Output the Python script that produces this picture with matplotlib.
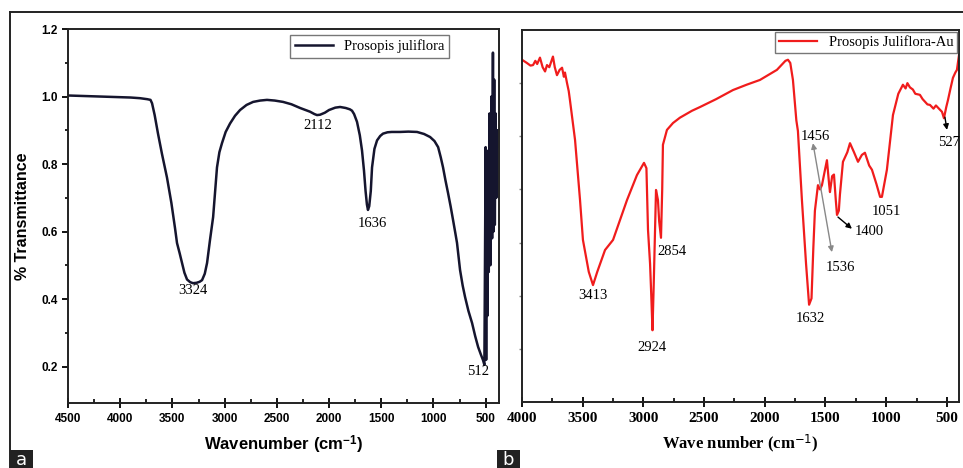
import matplotlib
matplotlib.use('Agg')
import matplotlib.pyplot as plt
from matplotlib.lines import Line2D
from matplotlib.patches import Rectangle

plt.rcParams['mathtext.fontset'] = 'custom'
plt.rcParams['mathtext.bf'] = 'Liberation Sans:bold'
plt.rcParams['mathtext.it'] = 'Liberation Serif:bold'

# panel a : Prosopis juliflora
wn_a = [4500, 4200, 3900, 3810, 3740, 3710, 3695, 3670, 3638, 3600, 3552, 3510, 3475, 3456,
        3430, 3408, 3385, 3360, 3330, 3303, 3270, 3240, 3216, 3190, 3168, 3140, 3110, 3073,
        3050, 3025, 2990, 2948, 2900, 2852, 2790, 2727, 2660, 2594, 2520, 2440, 2360, 2277,
        2182, 2140, 2115, 2086, 2040, 2000, 1940, 1894, 1840, 1800, 1780, 1760, 1732, 1705,
        1684, 1665, 1650, 1637, 1627, 1615, 1600, 1588, 1565, 1540, 1510, 1483, 1440,
        1400, 1320, 1240, 1157, 1090, 1032, 990, 955, 930, 908, 885, 860, 835, 812, 790, 774,
        745, 720, 697, 665, 630, 600, 572, 545, 525, 512,
        500, 495, 490, 484, 478, 470, 462, 455, 445, 438, 430, 425, 418, 412, 405, 398, 392]
tr_a = [1.003, 1.0, 0.997, 0.995, 0.992, 0.99, 0.98, 0.945, 0.89, 0.83, 0.76, 0.685, 0.61, 0.566,
        0.535, 0.507, 0.478, 0.458, 0.45, 0.447, 0.448, 0.451, 0.456, 0.475, 0.507, 0.575, 0.643, 0.79,
        0.835, 0.862, 0.895, 0.92, 0.943, 0.96, 0.975, 0.984, 0.988, 0.99, 0.988, 0.984, 0.977, 0.966,
        0.955, 0.948, 0.945, 0.946, 0.952, 0.96, 0.967, 0.969, 0.966, 0.962, 0.958, 0.948, 0.925, 0.885,
        0.84, 0.78, 0.72, 0.68, 0.664, 0.675, 0.72, 0.79, 0.845, 0.87, 0.883, 0.89, 0.894,
        0.895, 0.895, 0.896, 0.895, 0.889, 0.88, 0.868, 0.85, 0.82, 0.79, 0.752, 0.714, 0.674, 0.634, 0.595, 0.566,
        0.486, 0.44, 0.406, 0.365, 0.329, 0.29, 0.258, 0.235, 0.219, 0.205,
        0.85, 0.22, 0.84, 0.35, 0.82, 0.48, 0.95, 0.5, 1.0, 0.58, 1.13, 0.6, 1.05, 0.62, 0.95, 0.7, 0.9]
peaks_a = [(3300, 0.425, '3324'), (2105, 0.913, '2112'), (1588, 0.625, '1636'), (572, 0.184, '512')]

# panel b : Prosopis Juliflora-Au (arbitrary units)
wn_b = [4000, 3960, 3930, 3909, 3890, 3875, 3852, 3830, 3810, 3794, 3775, 3760, 3745, 3730,
        3712, 3690, 3670, 3655, 3646, 3629, 3615, 3605, 3563, 3522, 3498, 3450, 3415, 3380,
        3316, 3250, 3135, 3053, 2995, 2975, 2962, 2945, 2935, 2925, 2915, 2896, 2880, 2870,
        2855, 2845, 2839, 2806, 2756, 2699, 2600, 2534, 2400, 2262, 2150, 2040, 1900, 1830,
        1809, 1790, 1768, 1740, 1727, 1694, 1660, 1635, 1615, 1600, 1587, 1562, 1545, 1529,
        1510, 1488, 1470, 1463, 1445, 1430, 1415, 1405, 1390, 1381, 1356, 1320, 1298, 1265,
        1232, 1200, 1175, 1140, 1117, 1080, 1050, 1035, 994, 944, 900, 862, 840, 825, 804,
        780, 760, 722, 700, 680, 660, 639, 610, 590, 557, 540, 524, 505, 491, 470, 450, 430,
        417, 400]
tr_b = [6.44, 6.38, 6.33, 6.34, 6.42, 6.36, 6.48, 6.30, 6.22, 6.34, 6.30, 6.40, 6.50, 6.30,
        6.15, 6.25, 6.29, 6.12, 6.20, 6.00, 5.85, 5.68, 4.93, 3.80, 3.05, 2.45, 2.20, 2.45,
        2.86, 3.05, 3.80, 4.27, 4.50, 4.40, 3.24, 2.60, 2.00, 1.35, 2.20, 3.99, 3.80, 3.40,
        3.09, 4.00, 4.84, 5.12, 5.25, 5.35, 5.48, 5.55, 5.70, 5.87, 5.97, 6.06, 6.25, 6.42,
        6.44, 6.38, 6.06, 5.30, 5.10, 3.80, 2.60, 1.83, 1.95, 2.90, 3.60, 4.08, 4.00, 4.08,
        4.30, 4.55, 4.10, 3.95, 4.25, 4.28, 3.80, 3.52, 3.60, 3.90, 4.52, 4.70, 4.87, 4.70,
        4.52, 4.65, 4.69, 4.45, 4.37, 4.10, 3.86, 3.86, 4.37, 5.40, 5.80, 5.97, 5.90, 6.00, 5.92,
        5.88, 5.80, 5.78, 5.70, 5.65, 5.60, 5.59, 5.52, 5.58, 5.50, 5.46, 5.34, 5.55, 5.68, 5.90,
        6.10, 6.20, 6.25, 6.53]
peaks_b = [(3415, 2.01, '3413'), (2929, 1.03, '2924'), (2764, 2.84, '2854'), (1628, 1.58, '1632'),
           (1585, 5.0, '1456'), (1381, 2.54, '1536'), (1142, 3.2, '1400'), (1002, 3.58, '1051'),
           (483, 4.89, '527')]

W, H = 963, 468
fig = plt.figure(figsize=(W / 100, H / 100), dpi=100)

ax1 = fig.add_axes([68 / W, 1 - 403 / H, 431 / W, 374 / H])
ax2 = fig.add_axes([522 / W, 1 - 402 / H, 437 / W, 372 / H])

# ---- panel a
ax1.plot(wn_a, tr_a, color='#15152e', lw=1.8, label='Prosopis juliflora',
         solid_joinstyle='round')
ax1.set_xlim(4500, 372)
ax1.set_ylim(0.092, 1.2)
ax1.set_xticks([4500, 4000, 3500, 3000, 2500, 2000, 1500, 1000, 500])
ax1.set_xticks([4250, 3750, 3250, 2750, 2250, 1750, 1250, 750], minor=True)
ax1.set_yticks([0.2, 0.4, 0.6, 0.8, 1.0, 1.2])
ax1.set_yticks([0.3, 0.5, 0.7, 0.9, 1.1], minor=True)
ax1.set_yticklabels(['0.2', '0.4', '0.6', '0.8', '1.0', '1.2'])
ax1.tick_params(axis='x', which='major', direction='inout', length=7, width=1.3, pad=4)
ax1.tick_params(axis='x', which='minor', direction='in', length=3, width=1.2)
ax1.tick_params(axis='y', which='major', direction='out', length=4, width=1.3)
ax1.tick_params(axis='y', which='minor', direction='out', length=2, width=1.2)
for lab in ax1.get_xticklabels() + ax1.get_yticklabels():
    lab.set_fontfamily('Liberation Sans')
    lab.set_fontweight('bold')
    lab.set_fontsize(8.5)
ax1.set_xlabel(r'Wavenumber (cm$^{\mathbf{-1}}$)', family='Liberation Sans',
               fontweight='bold', fontsize=12, labelpad=6)
ax1.set_ylabel('% Transmittance', family='Liberation Sans', fontweight='bold',
               fontsize=11.5, labelpad=8)
for x, y, t in peaks_a:
    ax1.text(x, y, t, family='Liberation Serif', fontsize=10.5, ha='center', va='center')
leg1 = ax1.legend(loc='upper right', bbox_to_anchor=(0.884, 0.984), prop={'family': 'Liberation Serif', 'size': 10.5},
                  fancybox=False, framealpha=1, edgecolor='#777777', handlelength=2.6,
                  borderpad=0.3, borderaxespad=0)
leg1.get_frame().set_linewidth(1.0)

# ---- panel b
ax2.plot(wn_b, tr_b, color='#f01c1c', lw=1.6, label='Prosopis Juliflora-Au',
         solid_joinstyle='round')
ax2.set_xlim(4000, 400)
ax2.set_ylim(0, 7)
ax2.set_xticks([4000, 3500, 3000, 2500, 2000, 1500, 1000, 500])
ax2.set_xticks([3750, 3250, 2750, 2250, 1750, 1250, 750], minor=True)
ax2.set_yticks([1, 2, 3, 4, 5, 6])
ax2.set_yticklabels([])
ax2.tick_params(axis='x', which='major', direction='inout', length=7, width=1.3, pad=4)
ax2.tick_params(axis='x', which='minor', direction='in', length=3, width=1.2)
ax2.tick_params(axis='y', which='major', direction='out', length=2, width=1.0, color='#888888')
for lab in ax2.get_xticklabels():
    lab.set_fontfamily('Liberation Serif')
    lab.set_fontweight('bold')
    lab.set_fontsize(11)
ax2.set_xlabel(r'Wave number (cm$^{\mathit{-1}}$)', family='Liberation Serif',
               fontweight='bold', fontsize=12, labelpad=5)
for x, y, t in peaks_b:
    ax2.text(x, y, t, family='Liberation Serif', fontsize=10.5, ha='center', va='center')
ax2.annotate('', xy=(1603, 4.87), xytext=(1447, 2.82),
             arrowprops=dict(arrowstyle='<|-|>', color='#888888', lw=1.0, mutation_scale=8,
                             shrinkA=0, shrinkB=0))
ax2.annotate('', xy=(1282, 3.26), xytext=(1397, 3.48),
             arrowprops=dict(arrowstyle='-|>', color='black', lw=1.0, mutation_scale=8,
                             shrinkA=0, shrinkB=0))
ax2.annotate('', xy=(499, 5.12), xytext=(516, 5.36),
             arrowprops=dict(arrowstyle='-|>', color='black', lw=1.0, mutation_scale=8,
                             shrinkA=0, shrinkB=0))
leg2 = ax2.legend(loc='upper right', bbox_to_anchor=(0.995, 0.995), prop={'family': 'Liberation Serif', 'size': 10.5},
                  fancybox=False, framealpha=1, edgecolor='#777777', handlelength=2.6,
                  borderpad=0.25, borderaxespad=0)
leg2.get_frame().set_linewidth(1.0)

for ax in (ax1, ax2):
    for sp in ax.spines.values():
        sp.set_linewidth(1.4)
        sp.set_color('#222222')

# outer frame and panel letters
fig.add_artist(Line2D([10 / W, 1], [1 - 12 / H, 1 - 12 / H], color='#222222', lw=1.4))
fig.add_artist(Line2D([10 / W, 10 / W], [0, 1 - 12 / H], color='#222222', lw=1.4))
for x0, letter in [(10, 'a'), (497, 'b')]:
    fig.add_artist(Rectangle((x0 / W, 0), 23 / W, 18 / H, color='#222222', lw=0))
    fig.text((x0 + 11.5) / W, 8 / H, letter, color='white', fontsize=13,
             family='DejaVu Sans', ha='center', va='center')

fig.savefig('out.png', dpi=100)
